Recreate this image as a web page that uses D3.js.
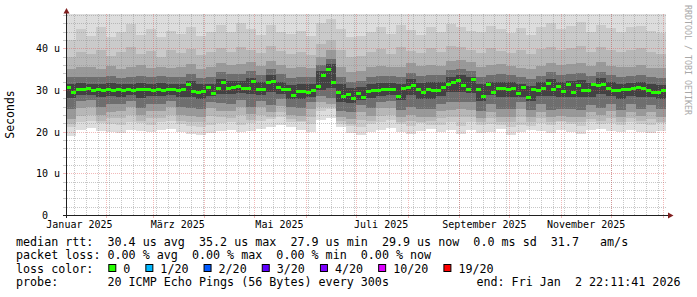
<!DOCTYPE html>
<html><head><meta charset="utf-8">
<script src="https://cdn.jsdelivr.net/npm/d3@7"></script>
<style>
html,body{margin:0;padding:0;background:#fff;}
svg{display:block;}
text{font-family:"DejaVu Sans Mono",monospace;white-space:pre;}
</style></head><body>
<svg id="c" width="697" height="297"></svg>
<script>
// ---- time frame ----
const startTime = new Date(2025, 0, 7, 22, 11, 41);
const endTime = new Date(2026, 0, 2, 22, 11, 41);
const smokeStepDays = 6;   // one smoke column = 6 days
const medianStepDays = 3;  // one median block = 3 days

// ---- median RTT (us), one value per 3 days ----
const medianRtt = [
 30.6,29.4,30.1,30.2,30.4,30.0,30.1,30.0,30.2,29.9,
 30.1,30.0,30.1,30.0,30.1,30.1,30.2,30.0,30.3,30.0,
 30.1,30.1,30.0,30.1,31.4,29.7,29.6,29.8,30.7,29.3,
 30.4,31.9,30.5,30.6,30.9,30.5,30.4,32.1,30.3,30.2,
 31.8,32.2,30.6,30.3,30.2,28.8,29.7,29.8,29.6,29.9,
 31.0,33.5,35.0,32.0,29.6,28.6,29.0,28.1,29.3,28.4,
 29.8,29.9,30.0,30.2,30.1,30.3,28.5,30.4,30.6,31.2,
 30.3,29.5,30.3,29.9,29.9,30.6,31.4,31.8,32.4,31.2,
 30.2,32.5,30.2,28.6,31.5,29.4,30.4,30.5,30.1,30.4,
 29.2,30.6,28.3,30.2,30.0,30.4,31.6,30.3,30.9,29.8,
 31.4,29.6,31.2,30.0,29.9,31.3,31.1,31.4,30.5,29.9,
 30.0,30.1,30.1,30.5,30.6,30.4,30.0,29.6,29.6,29.9];

// ---- smoke: sorted ping percentiles (us), one value per 6 days ----
const maxRtt = [
 52,55,51,57,53,50,56,54,52,58,
 53,55,51,54,56,52,57,53,55,51,
 58,54,52,56,53,60,62,55,51,52,
 54,57,53,56,55,52,58,54,57,55,
 53,52,56,55,54,57,52,55,58,54,
 56,59,53,57,55,52,56,58,54,52];
const p19 = [
 42.0,44.5,43.0,45.2,42.6,44.0,45.8,43.2,44.6,42.8,
 44.2,43.5,45.0,43.0,44.0,45.5,43.8,46.0,44.5,43.2,
 45.6,44.0,43.5,44.2,43.0,46.0,47.0,44.6,42.6,43.0,
 44.0,45.0,43.5,45.6,44.4,43.2,45.2,44.0,45.8,45.0,
 44.2,43.8,45.4,44.6,43.6,44.8,43.2,45.0,46.0,44.6,
 45.4,46.2,44.0,45.6,44.8,44.0,45.0,45.4,44.2,43.6];
const p18 = [
 38.0,39.2,38.5,39.6,38.2,39.0,40.2,38.6,39.4,38.0,
 39.5,38.8,39.8,38.4,39.0,40.0,39.2,40.4,39.6,38.8,
 40.5,39.4,38.6,39.0,38.4,41.0,42.0,39.5,38.0,38.2,
 39.0,39.8,38.6,40.2,39.4,38.8,40.0,39.0,40.5,40.2,
 39.6,38.8,40.0,39.3,38.9,39.5,38.6,39.8,40.4,39.6,
 40.0,40.6,39.2,40.3,39.5,39.0,39.6,40.0,39.0,38.6];
const p16 = [
 35.0,35.4,35.6,35.1,35.8,35.0,35.5,36.0,35.3,35.6,
 35.2,35.4,36.2,35.0,35.6,36.4,36.0,36.2,36.8,35.8,
 37.0,36.0,35.2,35.4,35.3,38.0,39.5,35.6,34.3,34.5,
 35.4,35.8,35.6,35.5,36.4,35.8,36.0,35.8,37.0,37.2,
 36.8,35.4,36.0,36.2,35.8,35.3,35.0,35.8,36.5,36.0,
 36.2,36.4,35.7,36.8,35.8,35.4,35.6,35.9,35.3,35.2];
const p14 = [
 33.0,33.2,33.1,33.0,33.3,32.9,33.2,33.4,33.0,33.3,
 33.1,33.0,33.8,32.9,33.2,34.2,33.8,33.9,34.5,33.5,
 35.0,33.7,32.8,33.0,33.0,36.0,37.5,33.2,32.0,32.2,
 33.0,33.3,33.4,33.0,34.0,33.3,33.5,33.5,34.8,35.0,
 34.6,33.0,33.6,33.7,33.5,33.0,32.6,33.4,34.2,33.6,
 33.9,34.0,33.3,34.4,33.5,33.1,33.3,33.6,33.0,32.9];
const p12 = [
 31.5,31.6,31.5,31.4,31.6,31.3,31.5,31.6,31.4,31.6,
 31.5,31.4,32.2,31.3,31.5,32.6,32.1,32.2,32.8,31.8,
 33.6,32.0,31.2,31.4,31.3,34.5,36.2,31.5,30.4,30.6,
 31.4,31.6,31.7,31.3,32.5,31.6,31.8,31.8,33.2,33.5,
 33.0,31.4,32.0,32.0,31.9,31.4,31.0,31.8,32.6,32.0,
 32.2,32.3,31.6,32.8,31.8,31.5,31.6,32.0,31.3,31.2];
const p9 = [
 28.0,28.7,28.8,28.2,28.5,28.4,28.8,28.1,28.6,28.5,
 28.8,28.2,28.4,27.9,28.6,29.0,28.9,29.2,28.9,28.8,
 29.6,29.0,27.9,27.8,28.4,30.0,30.5,27.2,26.8,27.5,
 28.0,28.6,28.8,27.6,28.7,27.9,27.8,28.6,29.4,29.5,
 29.3,27.4,28.7,28.3,28.2,28.4,27.3,28.6,28.5,28.2,
 28.4,28.3,28.4,28.9,28.6,27.9,28.6,28.3,28.3,27.9];
const p7 = [
 25.3,27.3,27.5,25.8,26.5,26.6,27.4,25.7,26.7,26.6,
 27.4,25.8,25.6,25.4,27.2,26.8,26.7,27.6,26.0,27.4,
 26.4,27.8,25.8,25.6,27.0,28.5,28.0,25.0,24.8,26.4,
 25.6,27.2,27.3,25.2,25.8,25.4,25.3,26.6,27.0,27.2,
 27.0,25.0,26.6,25.4,25.3,27.0,25.1,26.5,25.2,25.4,
 25.3,25.2,26.4,25.6,26.6,25.2,26.5,25.4,26.4,25.3];
const p5 = [
 23.0,25.7,25.9,24.0,24.8,24.9,25.8,23.9,25.0,24.9,
 25.8,24.0,23.8,23.6,25.6,25.0,24.9,26.0,24.2,25.8,
 24.6,26.2,24.0,23.8,25.4,27.0,26.5,23.5,23.0,24.6,
 23.8,25.6,25.7,23.5,24.0,23.6,23.5,24.9,25.2,25.4,
 25.2,23.3,24.8,23.6,23.5,25.4,23.4,24.8,23.5,23.7,
 23.6,23.5,24.7,23.9,24.9,23.5,24.8,23.7,24.7,23.6];
const p3 = [
 21.8,23.8,24.1,22.6,23.2,23.2,24.0,22.5,23.3,23.2,
 24.0,22.6,22.4,22.2,23.8,23.4,23.3,24.0,22.8,24.0,
 23.5,24.6,23.0,22.6,23.5,25.8,26.0,22.5,21.8,22.8,
 22.5,23.8,24.0,22.3,22.6,22.4,22.5,23.3,23.6,23.4,
 23.5,22.2,23.2,22.4,22.2,23.6,22.3,23.2,22.3,22.5,
 22.4,22.3,23.1,22.6,23.3,22.4,23.2,22.5,23.0,22.4];
const p2 = [
 21.0,22.3,22.6,22.0,21.8,21.5,22.4,22.0,21.7,22.2,
 22.5,21.9,21.4,21.2,21.6,22.1,22.4,21.7,22.0,22.5,
 23.0,23.6,22.4,22.3,21.8,25.0,25.5,21.8,21.4,21.0,
 21.8,22.4,22.8,21.9,21.3,22.1,21.6,21.7,22.2,21.4,
 22.3,21.6,21.9,21.5,21.2,21.7,21.4,22.0,21.5,22.3,
 21.9,21.4,22.2,21.8,22.1,21.7,22.4,21.8,21.5,22.1];
const minRtt = [
 19.0,20.4,20.8,20.2,20.0,19.6,20.5,20.1,19.8,20.3,
 20.6,20.0,19.5,19.3,19.6,20.2,20.5,19.8,20.1,20.6,
 21.0,21.5,21.0,20.4,20.0,22.8,23.2,21.0,19.6,19.2,
 19.8,20.5,20.8,20.0,19.4,20.2,20.6,19.8,20.3,19.5,
 20.4,19.7,20.0,20.6,19.3,19.8,20.5,20.1,19.6,20.4,
 20.0,19.5,20.3,20.7,20.2,19.8,20.5,19.9,19.6,20.2];

// ---- axis labels ----
const yTicks = [0, 10, 20, 30, 40];
const yTickLabels = ["0", "10 u", "20 u", "30 u", "40 u"];
const xLabelMonths = [new Date(2025,0,1), new Date(2025,2,1), new Date(2025,4,1),
                      new Date(2025,6,1), new Date(2025,8,1), new Date(2025,10,1)];
const xLabelTexts = ["Januar 2025", "März 2025", "Mai 2025", "Juli 2025", "September 2025", "November 2025"];

// ---- legend ----
const legendLines = [
  "median rtt:  30.4 us avg  35.2 us max  27.9 us min  29.9 us now  0.0 ms sd  31.7   am/s",
  "packet loss: 0.00 % avg  0.00 % max  0.00 % min  0.00 % now"
];
const lossLabels = ["0", "1/20", "2/20", "3/20", "4/20", "10/20", "19/20"];
const lossColors = ["#26ff00", "#00b8ff", "#0059ff", "#5e00ff", "#7e00ff", "#dd00ff", "#ff0000"];
const probeText = "probe:       20 ICMP Echo Pings (56 Bytes) every 300s";
const endText = "end: Fri Jan  2 22:11:41 2026";

// ================= drawing =================
const svg = d3.select("#c");
const X0 = 66, X1 = 666, Y0 = 215, YT = 14;
const yMax = 48.2;
const x = d3.scaleTime().domain([startTime, endTime]).range([X0, X1]);
const y = d3.scaleLinear().domain([0, yMax]).range([Y0, YT]);
const cy = v => Math.min(Y0, Math.max(YT, y(v)));

// smoke layers (outer = lightest)
const layers = [
  {lo: minRtt, hi: maxRtt, c: "#dddddd"},
  {lo: p2, hi: p19, c: "#cacaca"},
  {lo: p3, hi: p18, c: "#b7b7b7"},
  {lo: p5, hi: p16, c: "#999999"},
  {lo: p7, hi: p14, c: "#6e6e6e"},
  {lo: p9, hi: p12, c: "#424242"}
];
const colT = j => d3.timeDay.offset(startTime, smokeStepDays * j);
const gSmoke = svg.append("g").attr("shape-rendering", "crispEdges");
layers.forEach(L => {
  gSmoke.append("g").selectAll("rect").data(d3.range(L.lo.length)).join("rect")
    .attr("x", j => x(colT(j)))
    .attr("width", j => x(colT(j + 1)) - x(colT(j)))
    .attr("y", j => cy(L.hi[j]))
    .attr("height", j => cy(L.lo[j]) - cy(L.hi[j]))
    .attr("fill", L.c);
});

// grid
const gGrid = svg.append("g");
const minorCol = "rgba(143,143,143,0.5)", majorCol = "rgba(222,79,79,0.4)";
// horizontal minor every 2u
d3.range(2, yMax, 2).filter(v => v % 10 !== 0).forEach(v => {
  const yy = Math.round(y(v)) + 0.5;
  gGrid.append("line").attr("x1", X0 - 1).attr("x2", X1 + 1).attr("y1", yy).attr("y2", yy)
    .attr("stroke", minorCol).attr("stroke-dasharray", "1,1");
  gGrid.append("line").attr("x1", X0 - 3).attr("x2", X0 - 1).attr("y1", yy).attr("y2", yy)
    .attr("stroke", minorCol);
});
// vertical minor: weekly (Mondays)
d3.timeMonday.range(startTime, endTime).forEach(t => {
  const xx = Math.round(x(t)) + 0.5;
  gGrid.append("line").attr("x1", xx).attr("x2", xx).attr("y1", YT).attr("y2", Y0 + 1)
    .attr("stroke", minorCol).attr("stroke-dasharray", "1,1");
});
// vertical major: months
d3.timeMonth.range(d3.timeMonth.ceil(startTime), endTime).forEach(t => {
  const xx = Math.round(x(t)) + 0.5;
  gGrid.append("line").attr("x1", xx).attr("x2", xx).attr("y1", YT).attr("y2", Y0 + 1)
    .attr("stroke", majorCol).attr("stroke-dasharray", "1,1");
  gGrid.append("line").attr("x1", xx).attr("x2", xx).attr("y1", Y0 + 1).attr("y2", Y0 + 3)
    .attr("stroke", majorCol);
});
// horizontal major
yTicks.filter(v => v > 0).forEach(v => {
  const yy = Math.round(y(v)) + 0.5;
  gGrid.append("line").attr("x1", X0 - 1).attr("x2", X1 + 1).attr("y1", yy).attr("y2", yy)
    .attr("stroke", majorCol).attr("stroke-dasharray", "1,1");
  gGrid.append("line").attr("x1", X0 - 3).attr("x2", X0 - 1).attr("y1", yy).attr("y2", yy)
    .attr("stroke", majorCol);
});

// median blocks (loss 0 colour)
const medT = i => d3.timeDay.offset(startTime, medianStepDays * i);
svg.append("g").attr("shape-rendering", "crispEdges").selectAll("rect")
  .data(medianRtt).join("rect")
  .attr("x", (d, i) => x(medT(i)))
  .attr("width", (d, i) => x(medT(i + 1)) - x(medT(i)))
  .attr("y", d => Math.round(y(d)) - 1)
  .attr("height", 3)
  .attr("fill", lossColors[0]);

// axes
const axisCol = "#1f1f1f", arrowCol = "#801f1f";
svg.append("line").attr("x1", X0 + 0.5).attr("x2", X0 + 0.5).attr("y1", Y0 + 3).attr("y2", 12)
  .attr("stroke", axisCol);
svg.append("line").attr("x1", X0 - 3).attr("x2", 669).attr("y1", Y0 + 0.5).attr("y2", Y0 + 0.5)
  .attr("stroke", axisCol);
svg.append("path").attr("d", `M${X0 - 2.5},13.5 L${X0 + 0.5},8 L${X0 + 3.5},13.5 Z`).attr("fill", arrowCol);
svg.append("path").attr("d", `M668,${Y0 - 2.5} L673.5,${Y0 + 0.5} L668,${Y0 + 3.5} Z`).attr("fill", arrowCol);

// y tick labels (unit column right-aligned; "0" has no unit)
svg.append("g").selectAll("text").data(yTicks).join("text")
  .attr("x", (v, i) => yTickLabels[i].includes(" ") ? 60 : 48)
  .attr("y", v => Math.round(y(v)) + 4)
  .attr("text-anchor", "end").attr("font-size", "10px").attr("fill", "#000")
  .text((v, i) => yTickLabels[i]);

// x labels centred at mid-month
svg.append("g").selectAll("text").data(xLabelMonths).join("text")
  .attr("x", d => x(d3.timeDay.offset(d, 15)))
  .attr("y", 227.5).attr("text-anchor", "middle").attr("font-size", "10px").attr("fill", "#000")
  .text((d, i) => xLabelTexts[i]);

// y title
svg.append("text").attr("transform", `translate(14,${(Y0 + YT) / 2}) rotate(-90)`)
  .attr("text-anchor", "middle").attr("font-size", "11.5px").attr("fill", "#000").text("Seconds");

// watermark
svg.append("text").attr("transform", "translate(684.5,5) rotate(90)")
  .attr("font-size", "8.3px").attr("fill", "#a8a8a8").text("RRDTOOL / TOBI OETIKER");

// legend
const LF = "11.7px";
legendLines.forEach((s, i) => {
  svg.append("text").attr("x", 16).attr("y", 245.5 + i * 13.6).attr("font-size", LF)
    .attr("xml:space", "preserve").attr("fill", "#000").text(s);
});
svg.append("text").attr("x", 16).attr("y", 272.7).attr("font-size", LF).attr("fill", "#000").text("loss color:");
let tx = 123.3;
lossLabels.forEach((lab, i) => {
  svg.append("rect").attr("x", tx - 14.5).attr("y", 264.5).attr("width", 7).attr("height", 7)
    .attr("fill", lossColors[i]).attr("stroke", "#000").attr("stroke-width", 1);
  svg.append("text").attr("x", tx).attr("y", 272.7).attr("font-size", LF).attr("fill", "#000").text(lab);
  tx += lab.length * 7.05 + 30;
});
svg.append("text").attr("x", 16).attr("y", 286.3).attr("font-size", LF)
  .attr("xml:space", "preserve").attr("fill", "#000").text(probeText);
svg.append("text").attr("x", 680.5).attr("y", 286.3).attr("font-size", LF).attr("text-anchor", "end")
  .attr("xml:space", "preserve").attr("fill", "#000").text(endText);
</script>
</body></html>
